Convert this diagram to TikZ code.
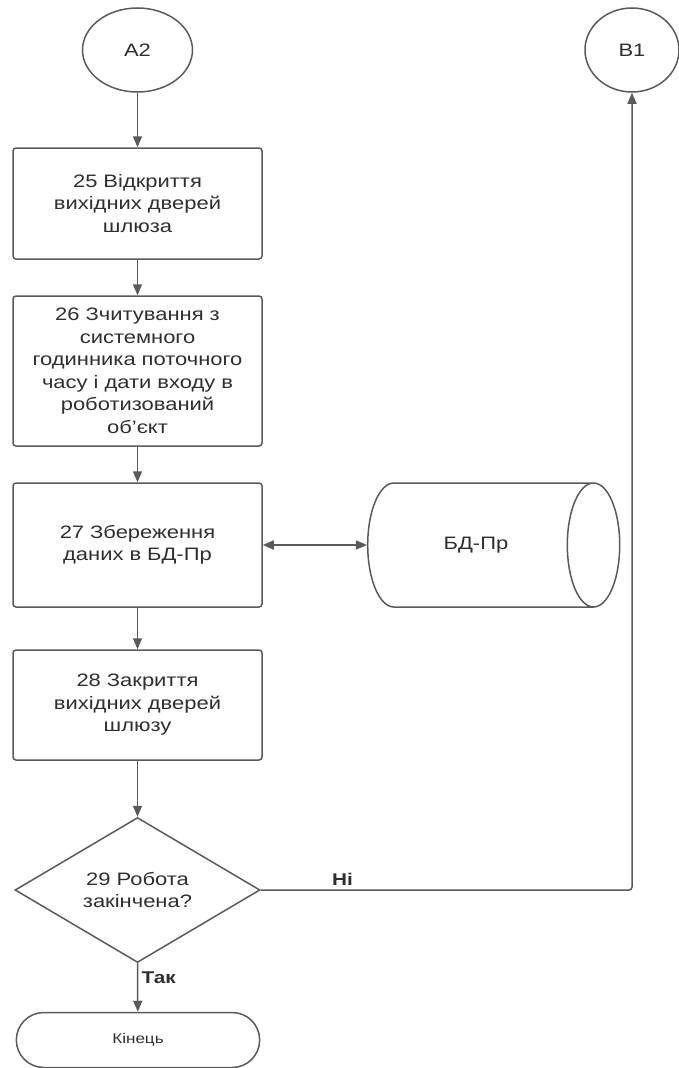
\documentclass[tikz,border=0pt]{standalone}
\usepackage{fontspec}
\setmainfont[FakeStretch=1.22]{Liberation Sans}
\usetikzlibrary{shapes.geometric}
\usetikzlibrary{shapes.misc}
\usetikzlibrary{arrows.meta}
\definecolor{linegray}{HTML}{5A5A5A}
\definecolor{textgray}{HTML}{2E2E2E}
\tikzstyle{tran}  = [
    draw=linegray,
    line width=1.5pt,
    -{Triangle[length=11pt,width=9pt]}
]
\tikzstyle{blok}  = [
    shape=rectangle,
    draw=linegray,
    line width=1.5pt,
    rounded corners=3pt,
    minimum width=249pt,
    text width=235pt,
    align=center,
    text=textgray,
    font=\fontsize{18}{22.5}\selectfont
]
\tikzstyle{konektor} = [
    shape=ellipse,
    draw=linegray,
    line width=1.5pt,
    minimum height=84pt,
    text=textgray,
    font=\fontsize{18}{22.5}\selectfont
]
\tikzstyle{mitka} = [
    text=textgray,
    font=\fontsize{17}{20}\selectfont\bfseries
]

\begin{document}
\begin{tikzpicture}[x=1pt, y=-1pt]
\useasboundingbox (0,0) rectangle (678,1068);
\node[konektor, minimum width=110pt] (a2)  at (137.5,50)  {A2};
\node[konektor, minimum width=94pt]  (b1)  at (632,50)    {B1};
\node[blok, minimum height=111pt] (b25)    at (137.5,203.5) {25 Відкриття\\вихідних дверей\\шлюза};
\node[blok, minimum height=150pt] (b26)    at (137.5,371) {26 Зчитування з\\системного\\годинника поточного\\часу і дати входу в\\роботизований\\об'єкт};
\node[blok, minimum height=124pt] (b27)    at (137.5,545) {27 Збереження\\даних в БД-Пр};
\node[shape=cylinder, draw=linegray, line width=1.5pt, shape aspect=2.3,
      minimum height=252pt, minimum width=124pt, text=textgray,
      font=\fontsize{18}{22.5}\selectfont] (bd) at (476,545) {БД-Пр};
\node[blok, minimum height=110pt] (b28)    at (137.5,705) {28 Закриття\\вихідних дверей\\шлюзу};
\node[shape=diamond, draw=linegray, line width=1.5pt, inner sep=0pt,
      minimum width=245pt, minimum height=144pt, align=center, text=textgray,
      font=\fontsize{18}{22.5}\selectfont] (d29) at (137.5,890) {29 Робота\\закінчена?};
\node[shape=rounded rectangle, draw=linegray, line width=1.5pt,
      minimum width=250pt, minimum height=55pt, text=textgray,
      font=\fontsize{14}{17}\selectfont] (kin) at (138,1040) {Кінець};

\draw[tran] (a2)  to (b25);
\draw[tran] (b25) to (b26);
\draw[tran] (b26) to (b27);
\draw[tran, {Triangle[length=11pt,width=9pt]}-{Triangle[length=11pt,width=9pt]}] (b27) to (bd);
\draw[tran] (b27) to (b28);
\draw[tran] (b28) to (d29);
\draw[tran] (d29.south) to node[mitka, pos=0.3, right] {Так} (kin);
\draw[tran, rounded corners=3pt] (d29.east) -| node[mitka, pos=0.11, above] {Ні} (b1.south);

\end{tikzpicture}
\end{document}
